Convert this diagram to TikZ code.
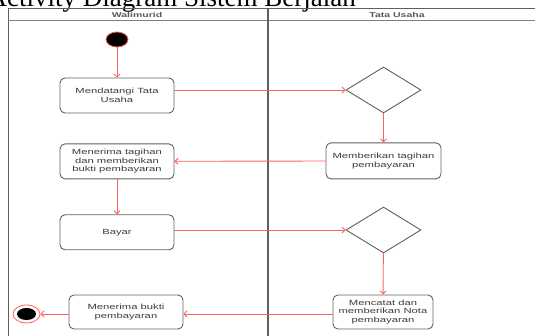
\documentclass[tikz,border=0pt]{standalone}
\usepackage{fontspec}
\setmainfont{Liberation Serif}
\newfontfamily\boxfont[FakeStretch=1.5]{Liberation Sans}
\usetikzlibrary{positioning,shapes.geometric,arrows.meta}

\definecolor{flowred}{RGB}{255,95,95}
\definecolor{boxgray}{RGB}{95,95,95}
\definecolor{txtgray}{RGB}{60,60,60}

\tikzstyle{activity} = [rectangle, rounded corners=5pt, minimum width=114pt, minimum height=35pt, align=center, draw=boxgray, line width=0.9pt, text=txtgray, font=\boxfont\fontsize{7.5}{8.6}\selectfont, inner sep=1pt]
\tikzstyle{decision} = [diamond, minimum width=75pt, minimum height=46pt, inner sep=0pt, draw=boxgray, line width=0.9pt]
\tikzstyle{flow} = [flowred, line width=0.9pt, -{Straight Barb[length=3pt,width=6pt]}]
\tikzstyle{lane} = [boxgray, line width=1pt]
\tikzstyle{lanehead} = [font=\boxfont\bfseries\fontsize{7}{8}\selectfont, text=txtgray!85]

\begin{document}
\begin{tikzpicture}[x=1pt, y=-1pt]
        \useasboundingbox (0,0) rectangle (535,336);

        % title and swimlanes
        \node (title) [anchor=base east, font=\fontsize{27}{30}\selectfont, inner sep=0pt] at (356,7) {Activity Diagram Sistem Berjalan};
        \draw [lane] (8,336) -- (8,9) -- (535,9);
        \draw [lane, boxgray!80] (8,21) -- (535,21);
        \draw [lane, line width=1.3pt] (268,9) -- (268,336);
        \node (wali) [lanehead] at (137,15) {Walimurid};
        \node (tu) [lanehead] at (397,15) {Tata Usaha};

        % walimurid
        \node (start) [ellipse, fill=black, draw=flowred, line width=0.8pt, minimum width=22pt, minimum height=15pt, inner sep=0pt] at (117,39.5) {};
        \node (datang) [activity] at (117,95.5) {Mendatangi Tata\\Usaha};
        \node (terima) [activity, below=30pt of datang] {Menerima tagihan\\dan memberikan\\bukti pembayaran};
        \node (bayar) [activity, below=35pt of terima] {Bayar};
        \node (bukti) [activity, minimum height=34pt] at (126,312) {Menerima bukti\\pembayaran};
        \node (stop) [ellipse, draw=flowred, fill=white, line width=0.8pt, minimum width=27pt, minimum height=18pt, inner sep=0pt] at (26.5,314) {};
        \node (stopin) [ellipse, fill=black, minimum width=19pt, minimum height=12pt, inner sep=0pt] at (stop) {};

        % tata usaha
        \node (cek1) [decision] at (383.5,90) {};
        \node (tagih) [activity, minimum width=115pt, minimum height=36pt, below=29pt of cek1] {Memberikan tagihan\\pembayaran};
        \node (cek2) [decision] at (383.5,230) {};
        \node (nota) [activity, minimum width=100pt, minimum height=34pt] at (383,312) {Mencatat dan\\memberikan Nota\\pembayaran};

        \draw [flow] (start) -- (datang);
        \draw [flow] (datang.east |- cek1.west) -- (cek1.west);
        \draw [flow] (cek1) -- (tagih);
        \draw [flow] (tagih) -- (terima);
        \draw [flow] (terima) -- (bayar);
        \draw [flow] (bayar.east |- cek2.west) -- (cek2.west);
        \draw [flow] (cek2) -- (nota);
        \draw [flow] (nota.west |- stop) -- (bukti.east |- stop);
        \draw [flow] (bukti.west |- stop) -- (stop);

\end{tikzpicture}
\end{document}
